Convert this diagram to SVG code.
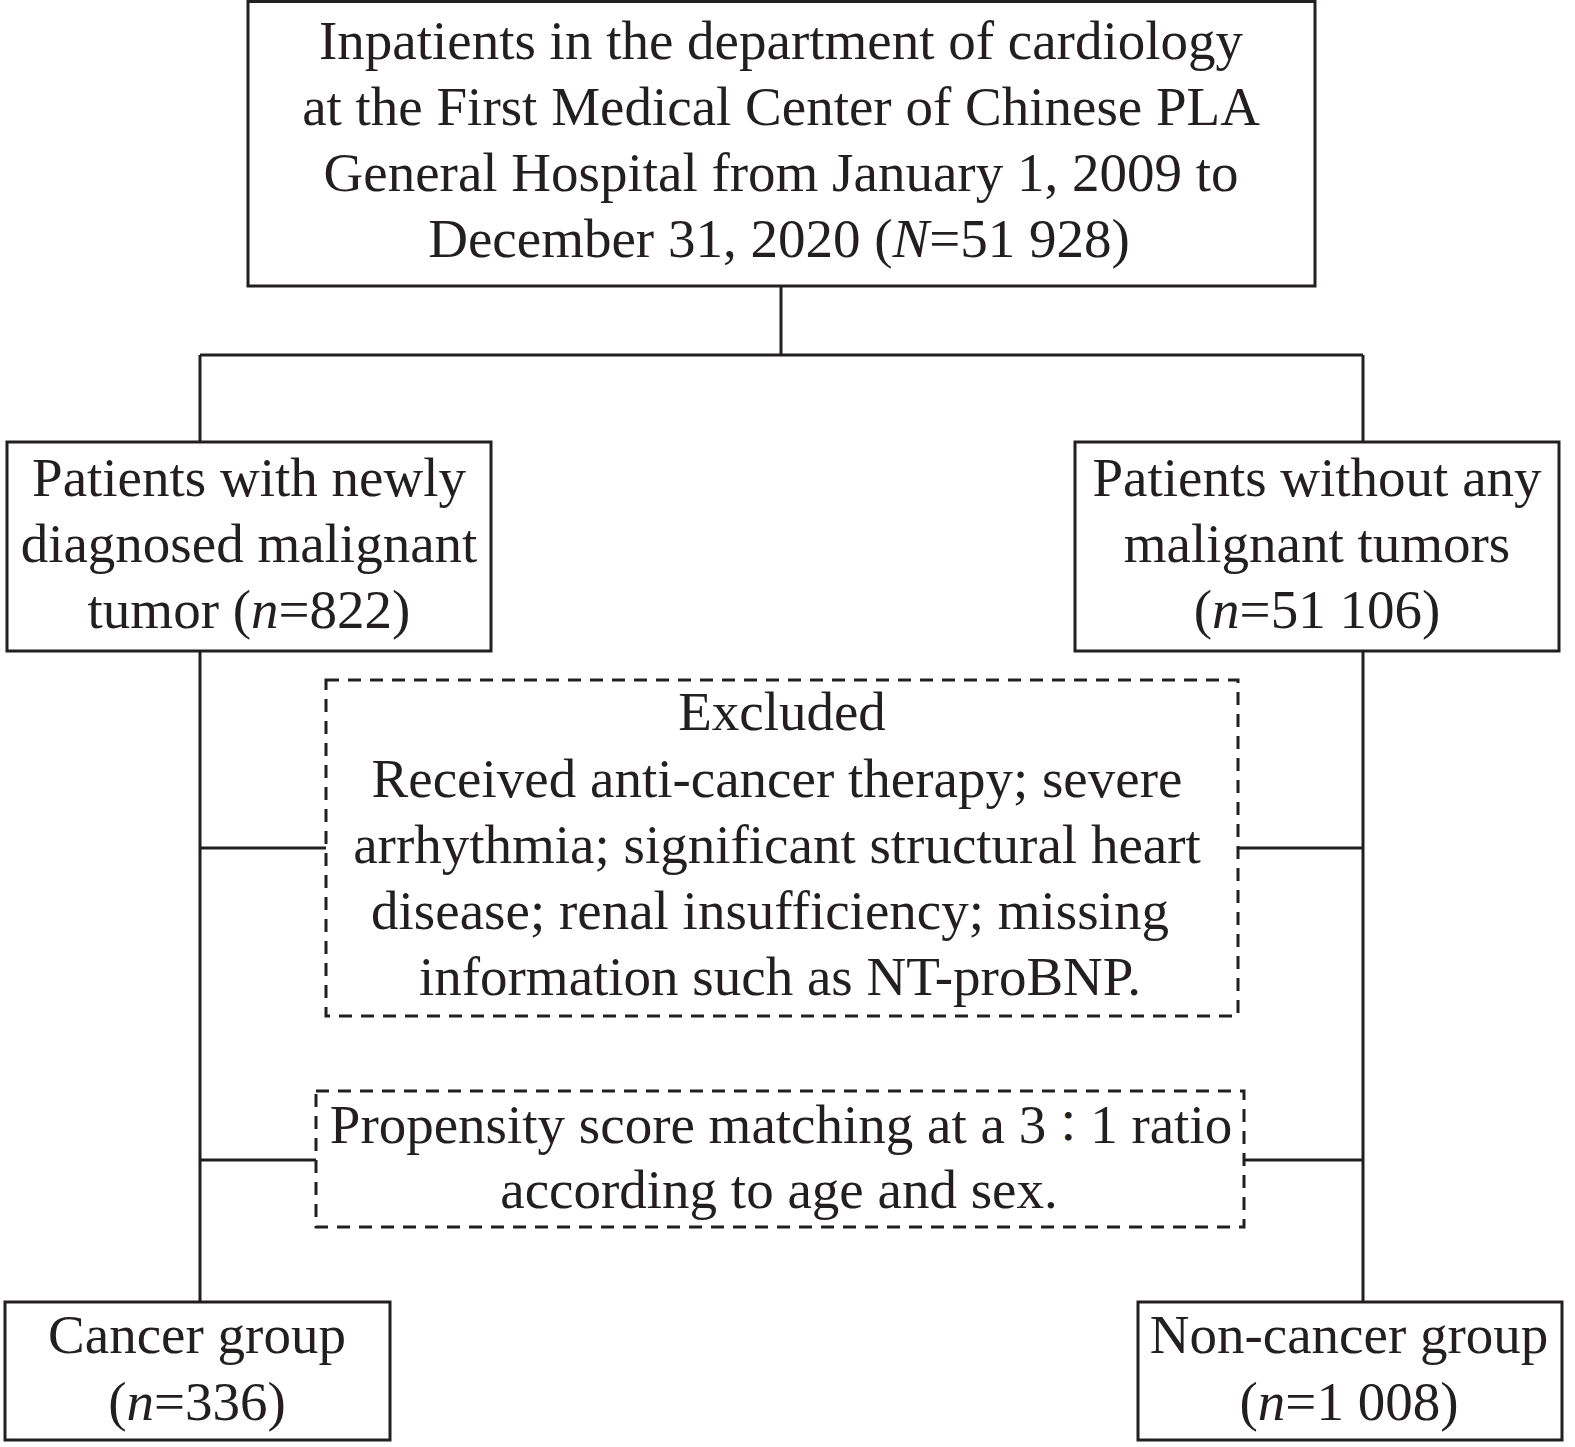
<svg xmlns="http://www.w3.org/2000/svg" width="1575" height="1447" viewBox="0 0 1575 1447">
<style>
text{font-family:"Liberation Serif","Times New Roman","Noto Sans CJK SC",serif;font-size:55px;fill:#231f20;text-anchor:middle}
.i{font-style:italic}
.c{font-family:"Noto Sans CJK JP","Noto Sans CJK TC",sans-serif;font-size:44px}
.box{fill:#fff;stroke:#231f20;stroke-width:3}
.dash{fill:#fff;stroke:#231f20;stroke-width:3;stroke-dasharray:13 9}
.ln{fill:none;stroke:#231f20;stroke-width:3}
</style>
<rect width="1575" height="1447" fill="#fff"/>
<g id="connectors">
<path class="ln" d="M781 286V355M200 355H1363M200 355V442M1363 355V442"/>
<path class="ln" d="M200 651V1302M1363 651V1302"/>
<path class="ln" d="M200 848H326M1238 848H1363"/>
<path class="ln" d="M200 1160H316M1244 1160H1363"/>
</g>
<g id="top">
<rect class="box" x="248" y="1.5" width="1067" height="284.5"/>
<text x="781" y="59">Inpatients in the department of cardiology</text>
<text x="781" y="125">at the First Medical Center of Chinese PLA</text>
<text x="781" y="191">General Hospital from January 1, 2009 to</text>
<text x="779" y="257">December 31, 2020 (<tspan class="i">N</tspan>=51 928)</text>
</g>
<g id="cancer-dx">
<rect class="box" x="7" y="442" width="484" height="209"/>
<text x="249" y="496">Patients with newly</text>
<text x="249" y="562">diagnosed malignant</text>
<text x="249" y="628">tumor (<tspan class="i">n</tspan>=822)</text>
</g>
<g id="no-tumor">
<rect class="box" x="1075" y="442" width="484" height="209"/>
<text x="1317" y="496">Patients without any</text>
<text x="1317" y="562">malignant tumors</text>
<text x="1317" y="628">(<tspan class="i">n</tspan>=51 106)</text>
</g>
<g id="excluded">
<rect class="dash" x="326" y="680" width="912" height="336"/>
<text x="782" y="730">Excluded</text>
<text x="777" y="797">Received anti-cancer therapy; severe</text>
<text x="777" y="863">arrhythmia; significant structural heart</text>
<text x="770" y="929">disease; renal insufficiency; missing</text>
<text x="780" y="995">information such as NT-proBNP.</text>
</g>
<g id="psm">
<rect class="dash" x="316" y="1091" width="928" height="136"/>
<text x="781" y="1143">Propensity score matching at a 3<tspan class="c">：</tspan>1 ratio</text>
<text x="779" y="1208">according to age and sex.</text>
</g>
<g id="cancer-group">
<rect class="box" x="5" y="1302" width="385" height="138"/>
<text x="197" y="1353">Cancer group</text>
<text x="197" y="1420">(<tspan class="i">n</tspan>=336)</text>
</g>
<g id="noncancer-group">
<rect class="box" x="1138" y="1302" width="424" height="138"/>
<text x="1349" y="1353">Non-cancer group</text>
<text x="1349" y="1420">(<tspan class="i">n</tspan>=1 008)</text>
</g>
</svg>
